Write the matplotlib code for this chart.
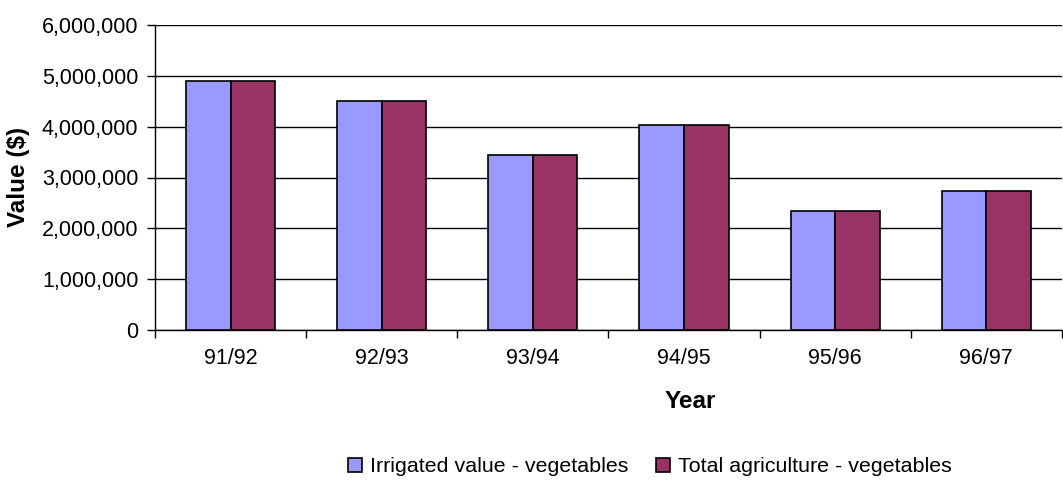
import matplotlib
matplotlib.use("Agg")
import matplotlib.pyplot as plt
import numpy as np
from matplotlib.ticker import FuncFormatter

plt.rcParams['font.family'] = ['Liberation Sans', 'DejaVu Sans']

years = ["91/92", "92/93", "93/94", "94/95", "95/96", "96/97"]
irrigated = [4900000, 4500000, 3440000, 4040000, 2340000, 2730000]
total_agri = [4900000, 4500000, 3440000, 4040000, 2340000, 2730000]
series_names = ["Irrigated value - vegetables", "Total agriculture - vegetables"]
colors = ["#9999FF", "#993366"]

fig = plt.figure(figsize=(10.63, 4.8), dpi=100)
ax = fig.add_axes([155/1063, 1 - 330/480, (1063-155)/1063 - 0.001, (330-25)/480])

x = np.arange(len(years))
w = 0.295
ax.bar(x - w/2, irrigated, w, color=colors[0], edgecolor="black", linewidth=1.2, label=series_names[0], zorder=3)
ax.bar(x + w/2, total_agri, w, color=colors[1], edgecolor="black", linewidth=1.2, label=series_names[1], zorder=3)

ax.set_xlim(-0.5, len(years) - 0.5)
ax.set_ylim(0, 6000000)
ax.set_yticks(np.arange(0, 6000001, 1000000))
ax.yaxis.set_major_formatter(FuncFormatter(lambda v, p: f"{int(v):,}"))
ax.grid(axis="y", color="black", linewidth=1, zorder=0)

ax.set_xticks(x)
ax.set_xticklabels(years)
ax.set_xticks(np.arange(-0.5, len(years)), minor=True)
ax.tick_params(axis="x", which="major", length=0, pad=13, labelsize=15.5)
ax.tick_params(axis="x", which="minor", length=6, width=1, direction="out")
ax.tick_params(axis="y", length=6, width=1, direction="out", labelsize=15.5, pad=6)

for s in ["top", "right"]:
    ax.spines[s].set_visible(False)
ax.spines["left"].set_linewidth(1)
ax.spines["bottom"].set_linewidth(1)

ax.set_xlabel("Year", fontsize=17.5, fontweight="bold", va="center")
ax.set_ylabel("Value ($)", fontsize=17.5, fontweight="bold", va="center")
ax.xaxis.set_label_coords((691 - 155) / 908, (330 - 402) / 305)
ax.yaxis.set_label_coords((18 - 155) / 908, (330 - 177) / 305)

leg = fig.legend(loc="center", bbox_to_anchor=(650/1063, 1 - 467/480), ncol=2, frameon=False,
                 fontsize=15.4, handlelength=0.65, handleheight=0.65, handletextpad=0.37,
                 columnspacing=1.3, borderpad=0)

fig.savefig("out.png", dpi=100)
